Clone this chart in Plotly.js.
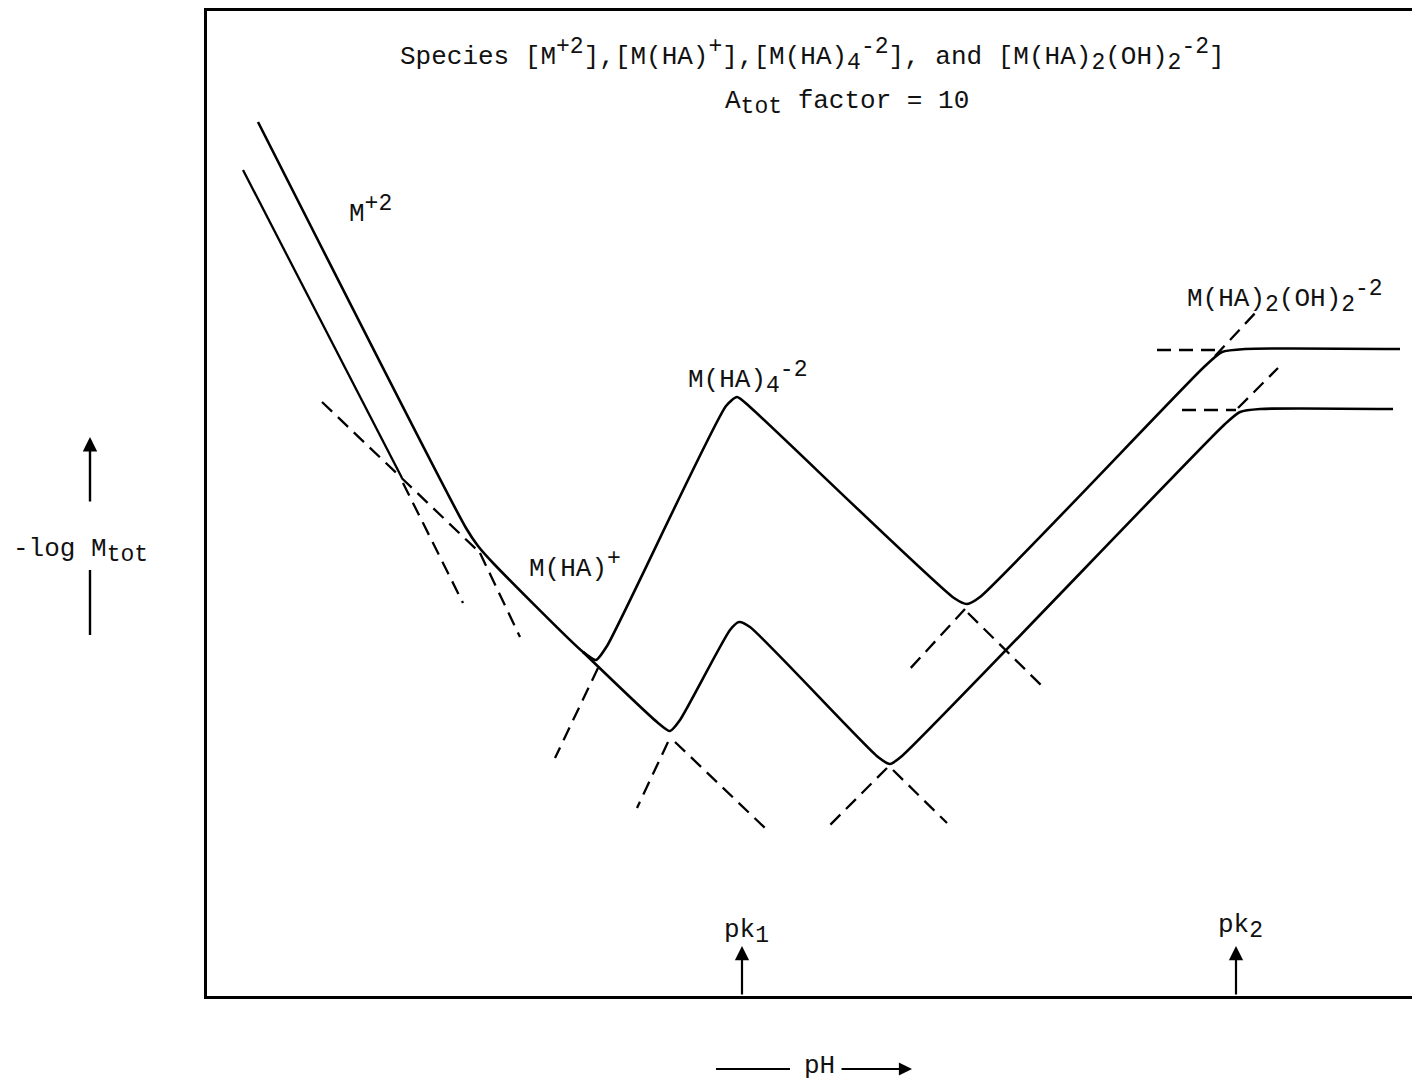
<!DOCTYPE html>
<html>
<head>
<meta charset="utf-8">
<script src="https://cdn.plot.ly/plotly-3.0.1.min.js"></script>
<style>html,body{margin:0;padding:0;background:#fff;}#chart{width:1412px;height:1082px;}</style>
</head>
<body>
<div id="chart"></div>
<script>
// Schematic units: x ~ pH (arbitrary), y ~ -log M_tot (arbitrary)
const upperX = [0.51, 2.59, 2.71, 2.87, 3.76, 3.89, 4.00, 5.19, 5.30, 5.43, 7.47, 7.60, 7.73, 9.98, 10.15, 10.38, 11.93];
const upperY = [8.74, 4.68, 4.50, 4.32, 3.44, 3.36, 3.50, 5.90, 5.99, 5.89, 3.98, 3.92, 3.99, 6.30, 6.44, 6.47, 6.47];
const leftX = [0.36, 1.95];
const leftY = [8.26, 5.18];
const lowerX = [3.76, 4.50, 4.63, 4.73, 5.23, 5.32, 5.43, 6.71, 6.83, 6.95, 10.18, 10.33, 10.53, 11.86];
const lowerY = [3.44, 2.74, 2.65, 2.76, 3.66, 3.74, 3.69, 2.39, 2.32, 2.40, 5.72, 5.84, 5.87, 5.87];
const dashX = [1.15, 2.70, null, 1.96, 2.56, null, 2.73, 3.13, null, 3.91, 3.48, null,
               4.61, 4.30, null, 4.68, 5.58, null, 7.58, 7.00, null, 7.61, 8.37, null,
               6.80, 6.23, null, 6.86, 7.40, null, 9.50, 10.08, null, 10.08, 10.51, null,
               9.75, 10.29, null, 10.31, 10.71];
const dashY = [5.94, 4.46, null, 5.13, 3.93, null, 4.43, 3.59, null, 3.28, 2.38, null,
               2.54, 1.88, null, 2.54, 1.68, null, 3.87, 3.24, null, 3.83, 3.08, null,
               2.28, 1.71, null, 2.26, 1.73, null, 6.46, 6.46, null, 6.40, 6.86, null,
               5.86, 5.86, null, 5.88, 6.28];
const pkX = [5.35, 10.29];
const pkBase = ['pk', 'pk'];
const pkSub = ['1', '2'];
const pkLabelX = [5.39, 10.33];
const pkLabelY = [0.64, 0.69];
const speciesX = [1.40, 3.20, 4.79, 9.78];
const speciesY = [7.86, 4.31, 6.18, 6.99];

const S = s => '<sup><span style="font-size:23px">' + s + '</span></sup>';
const B = s => '<sub><span style="font-size:23px">' + s + '</span></sub>';

const speciesLabels = ['M' + S('+2'), 'M(HA)' + S('+'), 'M(HA)' + B('4') + S('-2'), 'M(HA)' + B('2') + '(OH)' + B('2') + S('-2')];
const titleLine1 = 'Species [M' + S('+2') + '],[M(HA)' + S('+') + '],[M(HA)' + B('4') + S('-2') + '], and [M(HA)' + B('2') + '(OH)' + B('2') + S('-2') + ']';
const titleLine2 = 'A' + B('tot') + ' factor = 10';
const yLabel = '-log M' + B('tot');
const xLabel = 'pH';

const FONT = {family: 'Liberation Mono, DejaVu Sans Mono, monospace', size: 26, color: '#111'};
const solid = {color: '#000', width: 2.6, shape: 'spline', smoothing: 0.6};

const traces = [
  {x: upperX, y: upperY, mode: 'lines', line: solid, hoverinfo: 'skip'},
  {x: leftX, y: leftY, mode: 'lines', line: {color: '#000', width: 2.3}, hoverinfo: 'skip'},
  {x: lowerX, y: lowerY, mode: 'lines', line: solid, hoverinfo: 'skip'},
  {x: dashX, y: dashY, mode: 'lines', connectgaps: false, line: {color: '#000', width: 2.3, dash: '14px,8px'}, hoverinfo: 'skip'}
];

const ann = [];
ann.push({x: 6.05, y: 9.41, xref: 'x', yref: 'y', text: titleLine1, showarrow: false, font: FONT, xanchor: 'center', yanchor: 'middle'});
ann.push({x: 6.40, y: 8.93, xref: 'x', yref: 'y', text: titleLine2, showarrow: false, font: FONT, xanchor: 'center', yanchor: 'middle'});
for (let i = 0; i < speciesLabels.length; i++) {
  ann.push({x: speciesX[i], y: speciesY[i], xref: 'x', yref: 'y', text: speciesLabels[i], showarrow: false, font: FONT, xanchor: 'left', yanchor: 'middle'});
}
for (let i = 0; i < pkX.length; i++) {
  ann.push({x: pkX[i], y: 0.50, xref: 'x', yref: 'y', axref: 'x', ayref: 'y', ax: pkX[i], ay: 0.0, text: '', showarrow: true, arrowhead: 2, arrowsize: 1.3, arrowwidth: 2.2, arrowcolor: '#000'});
  ann.push({x: pkLabelX[i], y: pkLabelY[i], xref: 'x', yref: 'y', text: pkBase[i] + B(pkSub[i]), showarrow: false, font: FONT, xanchor: 'center', yanchor: 'middle'});
}
ann.push({x: -0.163, y: 0.452, xref: 'paper', yref: 'paper', text: yLabel, showarrow: false, font: FONT, xanchor: 'left', yanchor: 'middle'});
ann.push({x: -0.0971, y: 0.5675, xref: 'paper', yref: 'paper', ax: 0, ay: 66, text: '', showarrow: true, arrowhead: 2, arrowsize: 1.2, arrowwidth: 2.4, arrowcolor: '#000'});
ann.push({x: 0.5087, y: -0.0715, xref: 'paper', yref: 'paper', text: xLabel, showarrow: false, font: FONT, xanchor: 'center', yanchor: 'middle', borderpad: 0});
ann.push({x: 0.5851, y: -0.0741, xref: 'paper', yref: 'paper', ax: -72, ay: 0, text: '', showarrow: true, arrowhead: 2, arrowsize: 1.2, arrowwidth: 2.2, arrowcolor: '#000'});

const shapes = [
  {type: 'line', xref: 'paper', yref: 'paper', x0: -0.0971, x1: -0.0971, y0: 0.4325, y1: 0.3665, line: {color: '#000', width: 2.4}},
  {type: 'line', xref: 'paper', yref: 'paper', x0: 0.4224, x1: 0.4838, y0: -0.0741, y1: -0.0741, line: {color: '#000', width: 2.2}}
];

const layout = {
  width: 1412, height: 1082,
  margin: {l: 207, r: 0, t: 11, b: 86},
  paper_bgcolor: '#fff', plot_bgcolor: '#fff',
  showlegend: false,
  xaxis: {range: [0, 12.05], showline: true, mirror: true, linecolor: '#000', linewidth: 2.6, showgrid: false, zeroline: false, showticklabels: false, ticks: '', fixedrange: true},
  yaxis: {range: [0, 9.85], showline: true, linecolor: '#000', linewidth: 2.6, showgrid: false, zeroline: false, showticklabels: false, ticks: '', fixedrange: true},
  annotations: ann,
  shapes: shapes,
  font: FONT
};

Plotly.newPlot('chart', traces, layout, {displayModeBar: false, staticPlot: true});
</script>
</body>
</html>
